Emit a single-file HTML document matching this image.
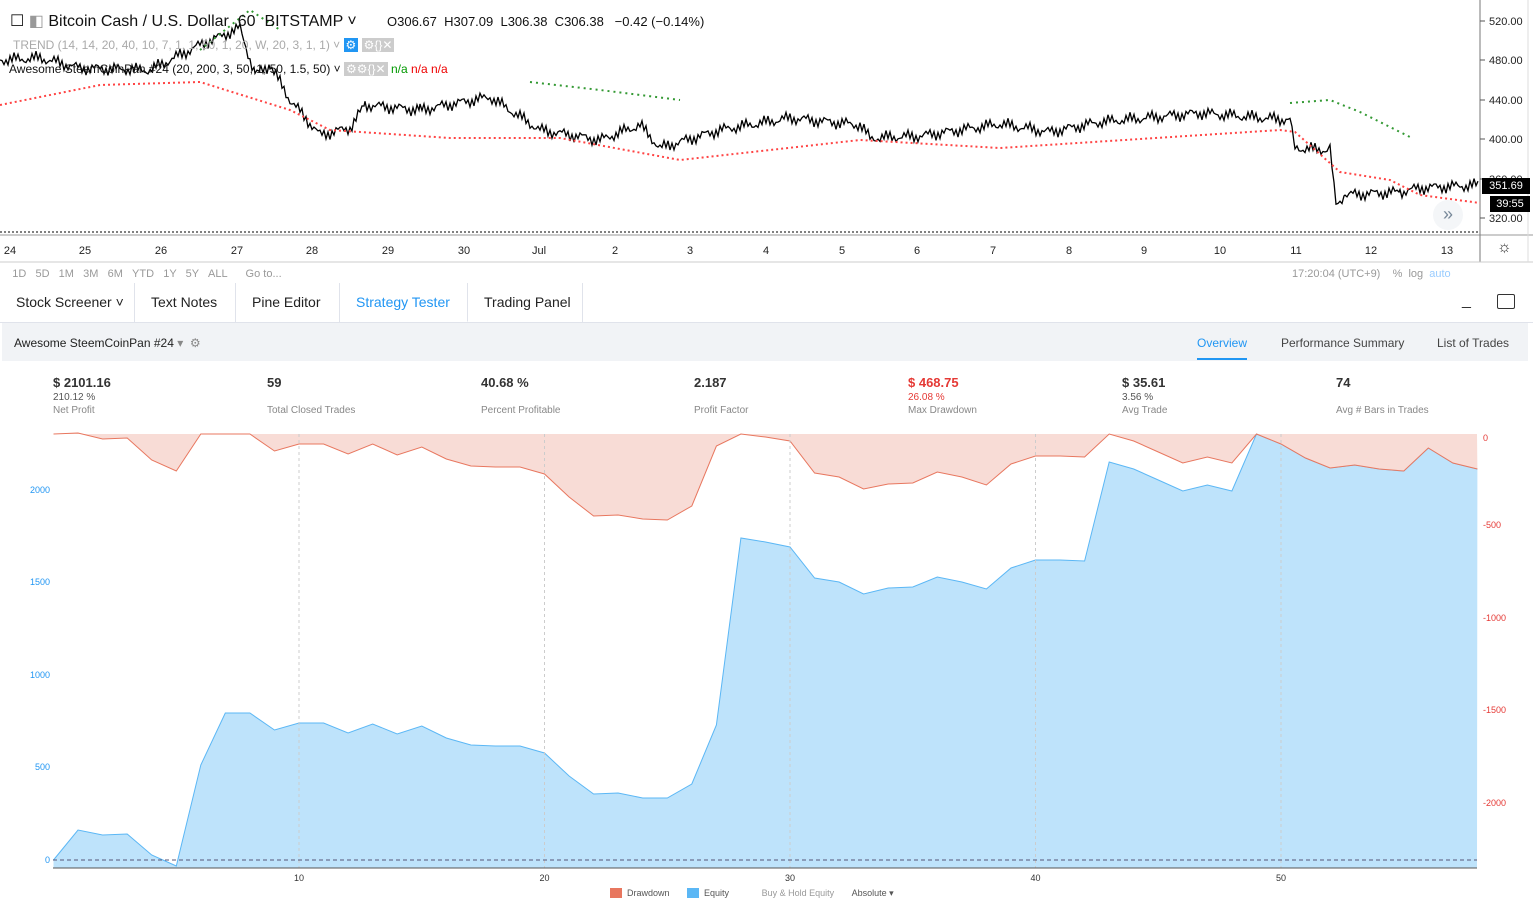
<!DOCTYPE html>
<html><head><meta charset="utf-8"><style>
*{margin:0;padding:0;box-sizing:border-box}
body{width:1533px;height:904px;overflow:hidden;background:#fff;font-family:"Liberation Sans",sans-serif;position:relative;color:#333}
.a{position:absolute;white-space:nowrap}
.tab{position:absolute;top:283px;height:39px;border-right:1px solid #e0e3eb;font-size:14px;line-height:38px;padding:0 16px;color:#222;white-space:nowrap}
.big{font-size:13px;font-weight:bold;color:#333;line-height:15px}
.sm{font-size:10px;color:#555;line-height:12px;margin-top:2px}
.lb{font-size:10px;color:#888;line-height:12px;margin-top:1px}
</style></head><body>
<svg class="a" style="left:0;top:0" width="1533" height="904" id="s">
<line x1="0" y1="232" x2="1480" y2="232" stroke="#000" stroke-dasharray="2,2"/>
<line x1="0" y1="235" x2="1533" y2="235" stroke="#999"/>
<line x1="1480" y1="0" x2="1480" y2="262" stroke="#777"/>
<line x1="0" y1="262" x2="1533" y2="262" stroke="#ccc"/>
<line x1="1528" y1="0" x2="1528" y2="262" stroke="#ddd"/>
<rect x="0" y="283" width="1533" height="1" fill="#e0e3eb"/>
<rect x="2" y="323" width="1526" height="38" fill="#f1f3f6"/>
<rect x="1197" y="358" width="50" height="2" fill="#2196f3"/>
<g id="g"></g>
</svg>
<div class="a" style="left:10px;top:11px;font-size:16px;color:#111">☐ <span style="color:#999">◧</span> Bitcoin Cash / U.S. Dollar &nbsp;60 &nbsp;BITSTAMP ˅</div>
<div class="a" style="left:387px;top:14px;font-size:13px;color:#111">O306.67 &nbsp;H307.09 &nbsp;L306.38 &nbsp;C306.38 &nbsp;&nbsp;−0.42 (−0.14%)</div>
<div class="a" style="left:13px;top:38px;font-size:12px;color:#aaa">TREND (14, 14, 20, 40, 10, 7, 1, 1, 50, 1, 20, W, 20, 3, 1, 1) ˅ <span style="color:#fff;background:#2196f3;padding:0 2px">⚙</span> <span style="background:#ccc;color:#fff;padding:0 2px">⚙{}✕</span></div>
<div class="a" style="left:9px;top:62px;font-size:12px;color:#111">Awesome SteemCoinPan #24 (20, 200, 3, 50, 1, 50, 1.5, 50) ˅ <span style="background:#ccc;color:#fff;padding:0 2px">⚙⚙{}✕</span> <span style="color:#090">n/a</span> <span style="color:#e00">n/a n/a</span></div>
<div class="a" style="left:1482px;top:178px;width:48px;height:16px;background:#000;color:#fff;font-size:11px;line-height:16px;text-align:center">351.69</div>
<div class="a" style="left:1490px;top:196px;width:40px;height:16px;background:#000;color:#fff;font-size:11px;line-height:16px;text-align:center">39:55</div>
<div class="a" style="left:1433px;top:200px;width:30px;height:30px;border-radius:15px;background:#f4f6f8;color:#789;text-align:center;line-height:28px;font-size:18px">»</div>
<div class="a" style="left:1497px;top:239px;font-size:16px">☼</div>
<div class="a" style="left:0;top:268px;font-size:11px;color:#999">&nbsp;&nbsp;&nbsp;&nbsp;1D &nbsp;&nbsp;5D &nbsp;&nbsp;1M &nbsp;&nbsp;3M &nbsp;&nbsp;6M &nbsp;&nbsp;YTD &nbsp;&nbsp;1Y &nbsp;&nbsp;5Y &nbsp;&nbsp;ALL &nbsp;&nbsp;&nbsp;&nbsp;&nbsp;Go to...</div>
<div class="a" style="left:1292px;top:268px;font-size:11px;color:#999">17:20:04 (UTC+9) &nbsp;&nbsp;&nbsp;% &nbsp;log &nbsp;<span style="color:#9cf">auto</span></div>
<div class="a" style="left:0;top:283px;width:1533px;height:40px;background:#fff;border-bottom:1px solid #e0e3eb"></div>
<div class="tab" style="left:0;width:135px">Stock Screener ˅</div>
<div class="tab" style="left:135px;width:101px">Text Notes</div>
<div class="tab" style="left:236px;width:104px">Pine Editor</div>
<div class="tab" style="left:340px;width:128px;color:#2196f3;border-bottom:1px solid #fff">Strategy Tester</div>
<div class="tab" style="left:468px;width:115px">Trading Panel</div>
<div class="a" style="left:1462px;top:292px;font-size:16px">_</div>
<div class="a" style="left:1497px;top:294px;width:18px;height:15px;border:1.5px solid #333;border-radius:2px"></div>
<div class="a" style="left:14px;top:336px;font-size:12px;color:#222">Awesome SteemCoinPan #24 <span style="color:#888">▾ &nbsp;⚙</span></div>
<div class="a" style="left:1197px;top:336px;font-size:12px;color:#2196f3">Overview</div>
<div class="a" style="left:1281px;top:336px;font-size:12px;color:#444">Performance Summary</div>
<div class="a" style="left:1437px;top:336px;font-size:12px;color:#444">List of Trades</div>
<div class="a" style="left:53px;top:375px"><div class="big">$ 2101.16</div><div class="sm">210.12 %</div><div class="lb">Net Profit</div></div>
<div class="a" style="left:267px;top:375px"><div class="big">59</div><div class="sm">&nbsp;</div><div class="lb">Total Closed Trades</div></div>
<div class="a" style="left:481px;top:375px"><div class="big">40.68 %</div><div class="sm">&nbsp;</div><div class="lb">Percent Profitable</div></div>
<div class="a" style="left:694px;top:375px"><div class="big">2.187</div><div class="sm">&nbsp;</div><div class="lb">Profit Factor</div></div>
<div class="a" style="left:908px;top:375px"><div class="big" style="color:#e53935">$ 468.75</div><div class="sm" style="color:#e53935">26.08 %</div><div class="lb">Max Drawdown</div></div>
<div class="a" style="left:1122px;top:375px"><div class="big">$ 35.61</div><div class="sm">3.56 %</div><div class="lb">Avg Trade</div></div>
<div class="a" style="left:1336px;top:375px"><div class="big">74</div><div class="sm">&nbsp;</div><div class="lb">Avg # Bars in Trades</div></div>
<div class="a" style="left:610px;top:888px;font-size:9px;color:#555"><span style="display:inline-block;width:12px;height:10px;background:#e8775f;vertical-align:-2px"></span> &nbsp;Drawdown &nbsp;&nbsp;&nbsp;&nbsp;&nbsp;&nbsp;<span style="display:inline-block;width:12px;height:10px;background:#5bb7f5;vertical-align:-2px"></span> &nbsp;Equity &nbsp;&nbsp;&nbsp;&nbsp;&nbsp;&nbsp;&nbsp;&nbsp;&nbsp;&nbsp;&nbsp;&nbsp;<span style="color:#999">Buy &amp; Hold Equity</span> &nbsp;&nbsp;&nbsp;&nbsp;&nbsp;&nbsp;Absolute ▾</div>
<script>
var g=document.getElementById('g'),h='';
function P(a){return a.map(function(p){return p[0]+','+p[1]}).join(' ')}
[[520,21],[480,60],[440,100],[400,139],[360,179],[320,218]].forEach(function(v){h+='<line x1="1480" y1="'+v[1]+'" x2="1485" y2="'+v[1]+'" stroke="#555"/><text x="1489" y="'+(v[1]+4)+'" font-size="11" fill="#222">'+v[0].toFixed(2)+'</text>'});
var tl=[[10,'24'],[85,'25'],[161,'26'],[237,'27'],[312,'28'],[388,'29'],[464,'30'],[539,'Jul'],[615,'2'],[690,'3'],[766,'4'],[842,'5'],[917,'6'],[993,'7'],[1069,'8'],[1144,'9'],[1220,'10'],[1296,'11'],[1371,'12'],[1447,'13']];
tl.forEach(function(t){h+='<text x="'+t[0]+'" y="254" font-size="11" text-anchor="middle" fill="#222">'+t[1]+'</text>'});
var pk=[[0,60],[40,58],[80,68],[150,70],[200,45],[240,28],[255,75],[270,65],[290,100],[320,135],[350,128],[365,105],[420,110],[490,97],[540,130],[600,140],[640,125],[660,148],[720,130],[790,118],[860,125],[870,138],[920,136],[1000,124],[1050,132],[1100,122],[1200,113],[1290,120],[1295,148],[1330,150],[1336,205],[1345,195],[1400,192],[1420,188],[1480,185]];
var pts=[];for(var i=0;i<pk.length-1;i++){var a=pk[i],b=pk[i+1];for(var x=a[0];x<b[0];x+=2){var y=a[1]+(b[1]-a[1])*(x-a[0])/(b[0]-a[0])+Math.sin(x*1.7)*4+Math.sin(x*0.31)*3;pts.push([x,y.toFixed(1)])}}
h+='<polyline points="'+P(pts)+'" fill="none" stroke="#000" stroke-width="1.3"/>';
var rd=[[0,105],[100,85],[200,82],[290,110],[330,130],[450,138],[560,138],[680,160],[860,140],[1000,148],[1280,130],[1295,132],[1340,172],[1390,180],[1420,195],[1480,203]];
h+='<polyline points="'+P(rd)+'" fill="none" stroke="#f44" stroke-width="2" stroke-dasharray="2,3"/>';
h+='<polyline points="200,50 250,10 280,30" fill="none" stroke="#393" stroke-width="2" stroke-dasharray="2,4"/>';
h+='<polyline points="530,82 600,90 680,100" fill="none" stroke="#393" stroke-width="2" stroke-dasharray="2,4"/>';
h+='<polyline points="1290,103 1330,100 1360,112 1410,137" fill="none" stroke="#393" stroke-width="2" stroke-dasharray="2,4"/>';
var eq=[860,830,835,834,855,866,765,713,713,730,723,723,733,724,734,726,738,745,746,746,753,776,794,793,798,798,784,725,538,542,547,578,582,594,588,587,577,582,589,568,560,560,561,462,469,480,491,485,491,434,444,458,468,465,469,471,448,463,469];
var dd=[434,433,439,438,460,471,434,434,434,451,444,444,454,444,455,447,459,466,467,467,474,497,516,515,519,520,506,446,434,437,441,473,477,489,484,483,472,477,485,464,456,456,457,434,441,452,463,457,463,434,444,458,468,465,469,471,448,463,469];
function X(i){return (53.5+i*24.55).toFixed(1)}
var ep=eq.map(function(v,i){return [X(i),v]});
h+='<polygon points="53.5,868 '+P(ep)+' 1477,868" fill="#bee3fb"/>';
h+='<polyline points="'+P(ep)+'" fill="none" stroke="#5bb7f5" stroke-width="1"/>';
var dp=dd.map(function(v,i){return [X(i),v]});
h+='<polygon points="53.5,434 '+P(dp)+' 1477,434" fill="#f8dcd6"/>';
h+='<polyline points="'+P(dp)+'" fill="none" stroke="#e8775f" stroke-width="1"/>';
[10,20,30,40,50].forEach(function(n){h+='<line x1="'+X(n)+'" y1="434" x2="'+X(n)+'" y2="868" stroke="#ccc" stroke-dasharray="3,3"/><text x="'+X(n)+'" y="881" font-size="9" text-anchor="middle" fill="#333">'+n+'</text>'});
h+='<line x1="53" y1="860" x2="1477" y2="860" stroke="#557" stroke-dasharray="4,3"/>';
h+='<line x1="53" y1="868" x2="1477" y2="868" stroke="#555"/>';
[[0,860],[500,767],[1000,675],[1500,582],[2000,490]].forEach(function(v){h+='<text x="50" y="'+(v[1]+3)+'" font-size="9" text-anchor="end" fill="#2196f3">'+v[0]+'</text>'});
[[0,438],[-500,525],[-1000,618],[-1500,710],[-2000,803]].forEach(function(v){h+='<text x="1483" y="'+(v[1]+3)+'" font-size="9" fill="#e53935">'+v[0]+'</text>'});
g.innerHTML=h;
</script>
</body></html>
